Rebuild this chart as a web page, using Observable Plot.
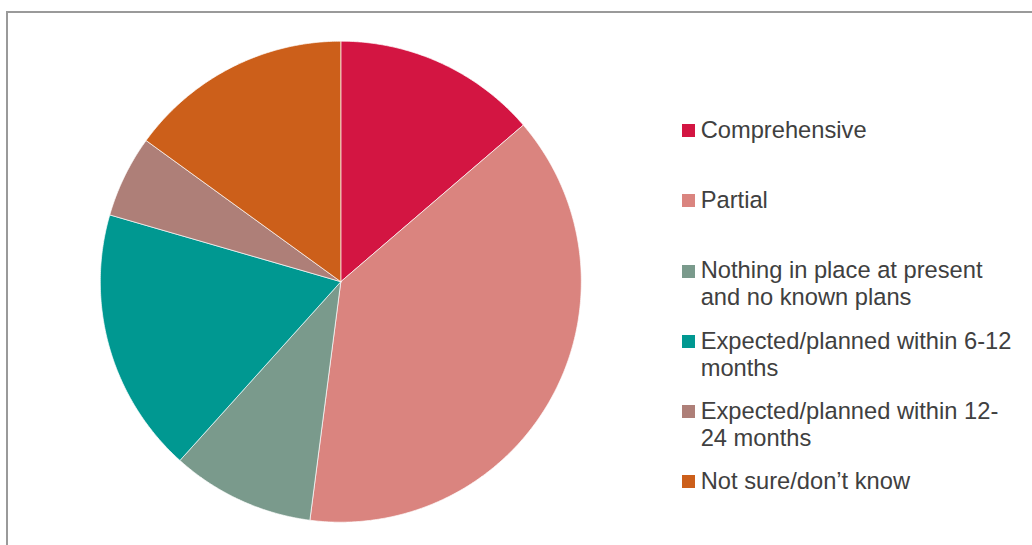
<!DOCTYPE html>
<html><head><meta charset="utf-8">
<script src="https://cdn.jsdelivr.net/npm/d3@7"></script>
<script src="https://cdn.jsdelivr.net/npm/@observablehq/plot@0.6"></script>
<style>
html,body{margin:0;padding:0;background:#fff;overflow:hidden;width:1032px;height:545px;}
#frame{position:absolute;left:6px;top:11px;width:1100px;height:600px;border:2px solid #9a9a9a;box-sizing:border-box;}
#chart{position:absolute;left:0;top:0;}
#legend{position:absolute;left:0;top:0;font-family:"Liberation Sans",Arial,sans-serif;font-size:23.7px;line-height:27px;color:#404040;}
.item{position:absolute;left:682px;width:345px;display:flex;white-space:pre;}
.sw{width:13px;height:13px;margin-top:7.4px;margin-right:5.7px;flex:none;}
</style></head><body>
<div id="frame"></div>
<div id="chart"></div>
<div id="legend"></div>
<script>
// Data (percent shares), clockwise from 12 o'clock
const categories = [
  "Comprehensive",
  "Partial",
  "Nothing in place at present\nand no known plans",
  "Expected/planned within 6-12\nmonths",
  "Expected/planned within 12-\n24 months",
  "Not sure/don\u2019t know"
];
const shares = [13.7, 38.3, 9.6, 17.8, 5.5, 15.0];
const colors = ["#D31542", "#DA847F", "#7A9A8C", "#009891", "#AE7F78", "#CC5F1A"];

// Build slice outlines (unit circle coords) from the shares
const total = d3.sum(shares);
const pts = [];
let acc = 0;
categories.forEach((c, i) => {
  const a0 = acc / total * 2 * Math.PI;
  acc += shares[i];
  const a1 = acc / total * 2 * Math.PI;
  pts.push({key: c, x: 0, y: 0});
  const n = Math.max(2, Math.ceil((a1 - a0) / (Math.PI / 360)));
  for (let k = 0; k <= n; k++) {
    const a = a0 + (a1 - a0) * k / n;
    pts.push({key: c, x: Math.sin(a), y: Math.cos(a)});
  }
  pts.push({key: c, x: 0, y: 0});
});

const cx = 340.3, cy = 281.2, r = 240.5;
const chart = Plot.plot({
  width: 680,
  height: 545,
  margin: 0,
  x: {domain: [-1, 1], range: [cx - r, cx + r], axis: null},
  y: {domain: [-1, 1], range: [cy + r, cy - r], axis: null},
  color: {type: "ordinal", domain: categories, range: colors},
  marks: [
    Plot.line(pts, {x: "x", y: "y", z: "key", fill: "key", stroke: "#ffffff", strokeWidth: 0.8, strokeOpacity: 0.85})
  ]
});
document.getElementById("chart").appendChild(chart);

// Legend
const legend = document.getElementById("legend");
categories.forEach((c, i) => {
  const it = document.createElement("div");
  it.className = "item";
  it.style.top = (116.6 + i * 70.3) + "px";
  const sw = document.createElement("div");
  sw.className = "sw";
  sw.style.background = colors[i];
  const tx = document.createElement("div");
  tx.textContent = c;
  it.appendChild(sw);
  it.appendChild(tx);
  legend.appendChild(it);
});
</script>
</body></html>
